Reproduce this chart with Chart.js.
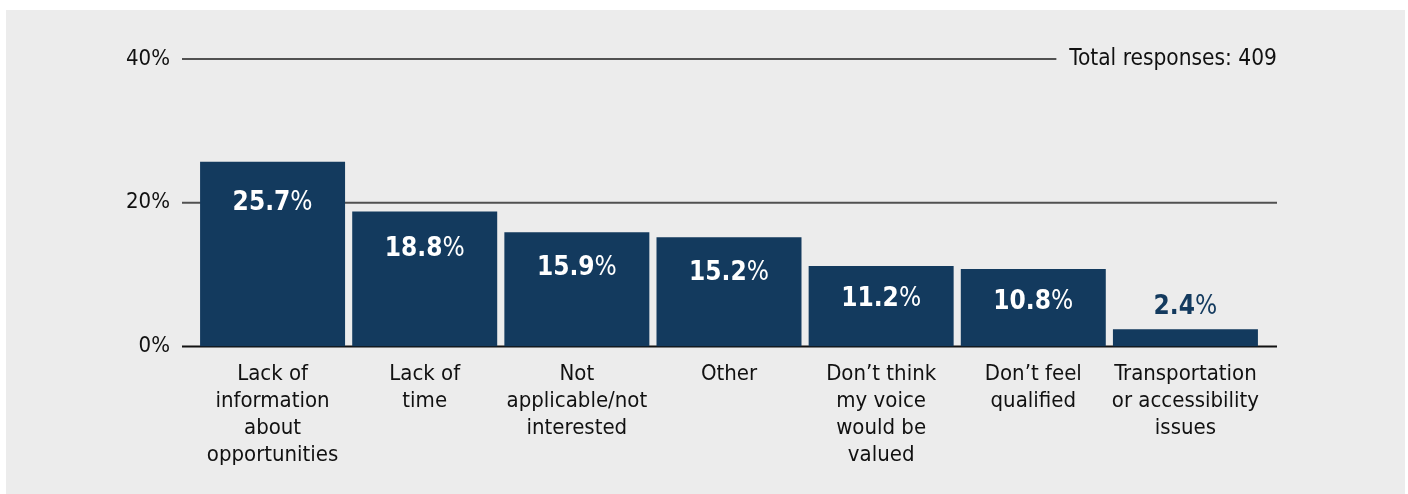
<!DOCTYPE html>
<html>
<head>
<meta charset="utf-8">
<title>Barriers to participation</title>
<script src="https://cdn.jsdelivr.net/npm/chart.js@4/dist/chart.umd.min.js"></script>
<style>
  html, body { margin: 0; padding: 0; background: #ffffff; }
  canvas { display: block; }
</style>
</head>
<body>
<canvas id="chart" width="1408" height="494"></canvas>
<script>
// Reasons given, share of responses (%)
const categories = [
  ["Lack of", "information", "about", "opportunities"],
  ["Lack of", "time"],
  ["Not", "applicable/not", "interested"],
  ["Other"],
  ["Don\u2019t think", "my voice", "would be", "valued"],
  ["Don\u2019t feel", "qualified"],
  ["Transportation", "or accessibility", "issues"]
];
const shares = [25.7, 18.8, 15.9, 15.2, 11.2, 10.8, 2.4];
const axisTicks = [0, 20, 40];
const totalNote = "Total responses: 409";

const FONT = 'Tahoma, "DejaVu Sans Condensed", "DejaVu Sans", sans-serif';
const NAVY = '#133a5e';
const INK = '#111111';

// Panel background, reference lines and the response-count note
const framePlugin = {
  id: 'frame',
  beforeDraw(chart) {
    const ctx = chart.ctx;
    ctx.save();
    ctx.fillStyle = '#ececec';
    ctx.fillRect(6, 10, chart.width - 9, chart.height - 10);
    ctx.restore();
  },
  beforeDatasetsDraw(chart) {
    const { ctx, chartArea, scales } = chart;
    const y = scales.y;
    const left = chartArea.left - 14.5;
    const right = chartArea.right + 15.5;
    const topTick = axisTicks[axisTicks.length - 1];
    ctx.save();
    ctx.font = '22.5px ' + FONT;
    const noteW = ctx.measureText(totalNote).width;
    axisTicks.forEach(v => {
      const py = y.getPixelForValue(v);
      let end = right;
      if (v === topTick) end = right - noteW - 13;
      ctx.beginPath();
      if (v === 0) { ctx.lineWidth = 2; ctx.strokeStyle = '#111111'; }
      else if (v === topTick) { ctx.lineWidth = 1.5; ctx.strokeStyle = '#1e1e1e'; }
      else { ctx.lineWidth = 1.8; ctx.strokeStyle = '#505050'; }
      ctx.moveTo(left, py);
      ctx.lineTo(end, py);
      ctx.stroke();
    });
    const topY = y.getPixelForValue(topTick);
    ctx.fillStyle = INK;
    ctx.textAlign = 'right';
    ctx.textBaseline = 'middle';
    ctx.fillText(totalNote, right, topY);
    ctx.restore();
  }
};

// Value labels: bold number, regular percent sign
const valuePlugin = {
  id: 'values',
  afterDatasetsDraw(chart) {
    const ctx = chart.ctx;
    const meta = chart.getDatasetMeta(0);
    ctx.save();
    ctx.textBaseline = 'middle';
    ctx.textAlign = 'left';
    meta.data.forEach((bar, i) => {
      const num = shares[i].toFixed(1);
      const h = bar.base - bar.y;
      ctx.font = 'bold 26px ' + FONT;
      const wNum = ctx.measureText(num).width;
      ctx.font = '26px ' + FONT;
      const wPct = ctx.measureText('%').width;
      const x0 = bar.x - (wNum + wPct) / 2;
      let ly, color;
      if (h > 50) {
        ly = bar.y + 27 + 0.08 * h;
        color = '#ffffff';
      } else {
        ly = bar.y - 22;
        color = NAVY;
      }
      ctx.fillStyle = color;
      ctx.font = 'bold 26px ' + FONT;
      ctx.fillText(num, x0, ly);
      ctx.font = '26px ' + FONT;
      ctx.fillText('%', x0 + wNum, ly);
    });
    ctx.restore();
  }
};

new Chart(document.getElementById('chart'), {
  type: 'bar',
  data: {
    labels: categories,
    datasets: [{
      data: shares,
      backgroundColor: NAVY,
      borderWidth: 0,
      barPercentage: 0.953,
      categoryPercentage: 1.0
    }]
  },
  options: {
    responsive: false,
    animation: false,
    devicePixelRatio: 1,
    layout: { padding: { left: 0, right: 146.5, top: 59, bottom: 0 } },
    plugins: {
      legend: { display: false },
      tooltip: { enabled: false }
    },
    scales: {
      x: {
        grid: { display: false, drawTicks: false },
        border: { display: false },
        ticks: {
          color: INK,
          padding: 14,
          maxRotation: 0,
          autoSkip: false,
          font: { family: FONT, size: 22, lineHeight: 1.227 }
        },
        afterFit(scale) { scale.height = 494 - 346.5; }
      },
      y: {
        min: 0,
        max: 40,
        grid: { display: false, drawTicks: false },
        border: { display: false },
        ticks: {
          stepSize: 20,
          color: INK,
          padding: 26.5,
          font: { family: FONT, size: 22 },
          callback: v => v + '%'
        },
        afterFit(scale) { scale.width = 196.5; }
      }
    }
  },
  plugins: [framePlugin, valuePlugin]
});
</script>
</body>
</html>
